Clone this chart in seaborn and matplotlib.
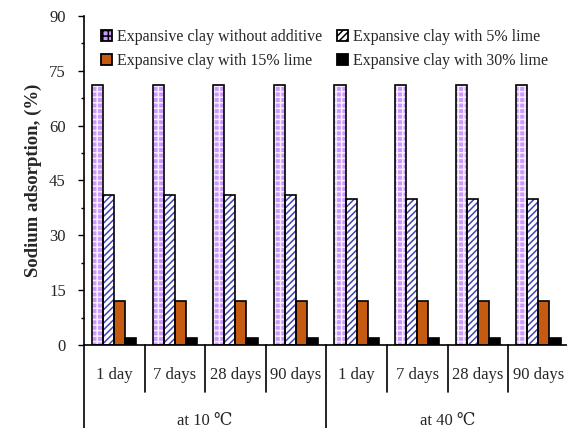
import numpy as np
import pandas as pd
import matplotlib
matplotlib.use("Agg")
import matplotlib.pyplot as plt
import matplotlib.patches as mpatches
from matplotlib.ticker import MultipleLocator
import seaborn as sns

# ---- data -------------------------------------------------------------
temperatures = ["at 10 \u2103", "at 40 \u2103"]
ages = ["1 day", "7 days", "28 days", "90 days"]
series = [
    "Expansive clay without additive",
    "Expansive clay with 5% lime",
    "Expansive clay with 15% lime",
    "Expansive clay with 30% lime",
]
no_additive = [71, 71, 71, 71, 71, 71, 71, 71]
lime_5 = [41, 41, 41, 41, 40, 40, 40, 40]
lime_15 = [12, 12, 12, 12, 12, 12, 12, 12]
lime_30 = [2, 2, 2, 2, 2, 2, 2, 2]

# ---- long table for seaborn ------------------------------------------
slots = [f"{t}|{a}" for t in temperatures for a in ages]
rows = []
for name, vals in zip(series, [no_additive, lime_5, lime_15, lime_30]):
    for slot, v in zip(slots, vals):
        rows.append({"slot": slot, "series": name, "value": v})
df = pd.DataFrame(rows)

# ---- styling ----------------------------------------------------------
sns.set_style("white")
serif = ["Liberation Serif", "DejaVu Serif"]
plt.rcParams["font.family"] = serif
plt.rcParams["hatch.linewidth"] = 1.1

face = ["#CC99FF", "white", "#C55A11", "black"]
hatch_col = ["#F8F0FF", "#4343B3", "#C55A11", "black"]
hatches = ["+++", "/////", "", ""]

fig = plt.figure(figsize=(5.67, 4.28), dpi=100)
ax = fig.add_axes([0.148, 0.194, 0.855, 0.7687])

sns.barplot(data=df, x="slot", y="value", hue="series", order=slots,
            hue_order=series, width=0.73, gap=0, ax=ax, legend=False,
            palette=face, saturation=1)

# Apply hatch fills, then lay a crisp black outline over each bar
for i, cont in enumerate(ax.containers):
    for p in cont:
        p.set_facecolor(face[i])
        p.set_edgecolor(hatch_col[i])
        p.set_hatch(hatches[i])
        p.set_linewidth(0)
        ax.add_patch(mpatches.Rectangle(p.get_xy(), p.get_width(), p.get_height(),
                                        fill=False, edgecolor="black", linewidth=1.2,
                                        zorder=p.get_zorder() + 0.1))

# ---- axes -------------------------------------------------------------
ax.set_ylim(0, 90)
ax.set_xlim(-0.5, len(slots) - 0.5)
ax.yaxis.set_major_locator(MultipleLocator(15))
ax.yaxis.set_minor_locator(MultipleLocator(7.5))
ax.tick_params(axis="y", which="major", direction="out", length=4, width=1,
               color="black", labelsize=12, pad=9, left=True)
ax.tick_params(axis="y", which="minor", direction="out", length=2.5, width=1,
               color="black", left=True)
ax.set_xticks([])
ax.set_xlabel("")
ax.set_ylabel("Sodium adsorption, (%)", fontsize=13.5, fontweight="bold", labelpad=5)

for s in ["top", "right"]:
    ax.spines[s].set_visible(False)
for s in ["left", "bottom"]:
    ax.spines[s].set_color("black")
    ax.spines[s].set_linewidth(1.2)

# ---- two-level category axis -----------------------------------------
trans = ax.get_xaxis_transform()
n_age = len(ages)
for k in range(len(slots) + 1):
    xpos = k - 0.5
    bottom = -0.26 if k % n_age == 0 else -0.143
    ax.plot([xpos, xpos], [0, bottom], transform=trans, color="black",
            lw=1.2, clip_on=False)
for k, slot in enumerate(slots):
    ax.text(k, -0.09, slot.split("|")[1], transform=trans, ha="center",
            va="center", fontsize=12)
for g, t in enumerate(temperatures):
    ax.text(g * n_age + (n_age - 1) / 2, -0.232, t, transform=trans,
            ha="center", va="center", fontsize=12)

# ---- legend (row-wise order across two columns) ----------------------
handles = [mpatches.Patch(facecolor=face[i], edgecolor="black", linewidth=1.3,
                          hatch=hatches[i]) for i in range(len(series))]
order = [0, 2, 1, 3]
leg = ax.legend([handles[i] for i in order], [series[i] for i in order],
                ncol=2, loc="upper left", bbox_to_anchor=(0.022, 0.98),
                frameon=False, fontsize=11.5,
                handlelength=0.7, handleheight=0.7, handletextpad=0.3,
                columnspacing=0.95, labelspacing=0.5, borderaxespad=0)

fig.savefig("out.png", dpi=100)
